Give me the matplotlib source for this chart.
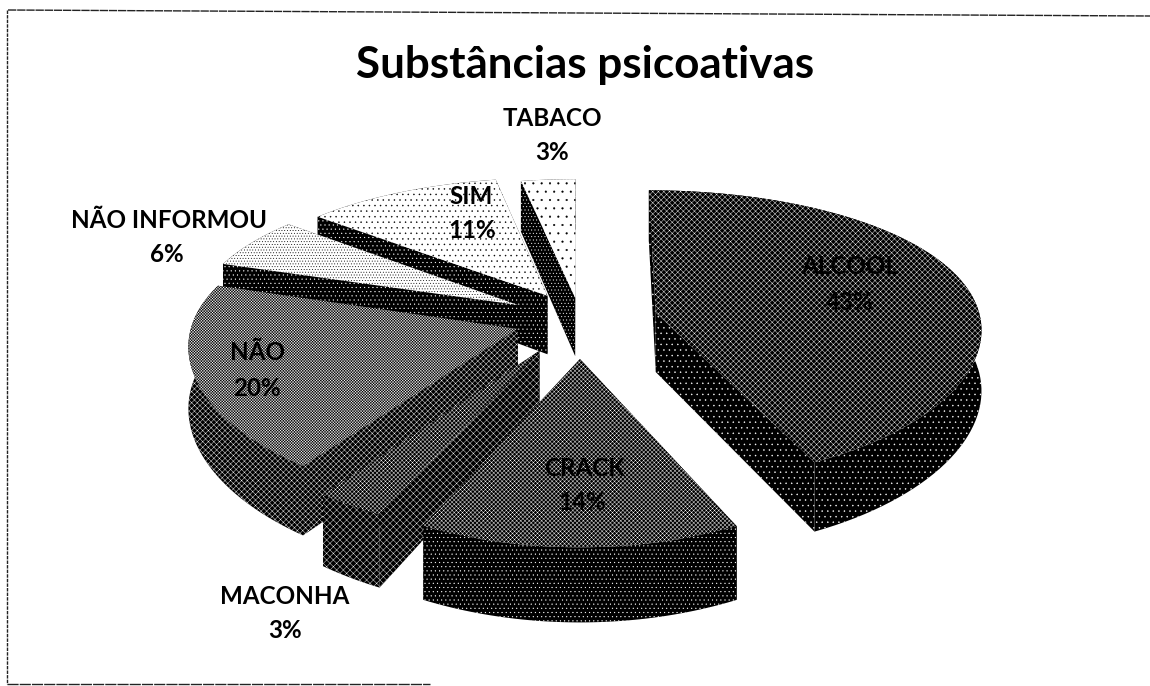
import numpy as np
import matplotlib
matplotlib.use("Agg")
import matplotlib.pyplot as plt
from matplotlib.patches import Polygon

# ---- data ----
categories = ["ALCOOL", "CRACK", "MACONHA", "NÃO", "NÃO INFORMOU", "SIM", "TABACO"]
values = [43, 14, 3, 20, 6, 11, 3]
title = "Substâncias psicoativas"

# ---- style ----
explode = [0.24, 0.26, 0.24, 0.20, 0.22, 0.20, 0.16]
top_face = ["black", "black", "black", "black", "white", "white", "white"]
top_hatch = ["white", "white", "white", "white", "black", "black", "black"]
top_pattern = ["xxxxxx", "xxxxxxxx", "xxxxxxxx", "xxxxxxxxxxxx", "......", "...", ".."]
side_pattern = ["...", "....", "xxxxx", "xxxxxx", "....", "....", "....."]
draw_order = [6, 5, 4, 0, 3, 2, 1]
label_xy = [(850, 267), (585, 468), (285, 596), (258, 353), (169, 220), (471, 197), (552, 118)]
pct_xy = [(850, 303), (582, 503), (285, 631), (257, 389), (167, 255), (472, 230), (552, 152)]

CX, CY, RX, RY, KX, KY, DEPTH = 580, 320, 325, 144, 0.10, 0.16, 60

plt.rcParams["font.family"] = ["Lato", "DejaVu Sans"]
plt.rcParams["hatch.linewidth"] = 0.3

fig = plt.figure(figsize=(11.5, 6.86), dpi=100)
ax = fig.add_axes([0, 0, 1, 1])
ax.set_xlim(0, 1150)
ax.set_ylim(686, 0)
ax.axis("off")


def project(u, v, z=0.0):
    u, v = np.asarray(u), np.asarray(v)
    sx = 1.0 / (1.0 + KX * v)
    sy = 1.0 / (1.0 + KY * v)
    return np.column_stack([CX + RX * u * sx, CY - RY * v * sy + z * DEPTH * sy])


def poly(pts, face, hatch_col, pattern, z):
    ax.add_patch(Polygon(pts, closed=True, facecolor=face, edgecolor=hatch_col,
                         hatch=pattern, linewidth=0, zorder=z))


total = float(sum(values))
edges = np.concatenate([[0], np.cumsum(values)]) / total * 2 * np.pi

for rank, i in enumerate(draw_order):
    a0, a1 = edges[i], edges[i + 1]
    mid = (a0 + a1) / 2
    ou, ov = explode[i] * np.sin(mid), explode[i] * np.cos(mid)
    t = np.linspace(a0, a1, 80)
    arc_u, arc_v = ou + np.sin(t), ov + np.cos(t)
    apex_u, apex_v = np.array([ou]), np.array([ov])

    top_arc, low_arc = project(arc_u, arc_v), project(arc_u, arc_v, 1)
    apex_top, apex_low = project(apex_u, apex_v), project(apex_u, apex_v, 1)

    z = 2 + rank * 3
    for end in (0, -1):
        wall = np.vstack([apex_top, top_arc[end], low_arc[end], apex_low])
        poly(wall, "black", "white", side_pattern[i], z)
    poly(np.vstack([top_arc, low_arc[::-1]]), "black", "white", side_pattern[i], z + 1)
    poly(np.vstack([apex_top, top_arc]), top_face[i], top_hatch[i], top_pattern[i], z + 2)

ax.text(585, 65, title, ha="center", va="center", fontsize=31.7, fontweight="bold",
        color="black", zorder=60)

for i, name in enumerate(categories):
    ax.text(*label_xy[i], name, ha="center", va="center", fontsize=17.4, fontweight="bold",
            color="black", zorder=60)
    ax.text(*pct_xy[i], f"{values[i]}%", ha="center", va="center",
            fontsize=17.4, fontweight="bold", color="black", zorder=60)

# scanned frame: open on the right, bottom line stops part way
for xs, ys, dash in (([8, 1150], [10, 16], (6, 0.6)),
                     ([7, 7], [10, 684], (2.5, 0.8)),
                     ([7, 430], [684, 684], (8, 0.8))):
    ax.plot(xs, ys, color="#222222", linewidth=1.0, linestyle=(0, dash), zorder=1)

fig.savefig("out.png", dpi=100, facecolor="white")
